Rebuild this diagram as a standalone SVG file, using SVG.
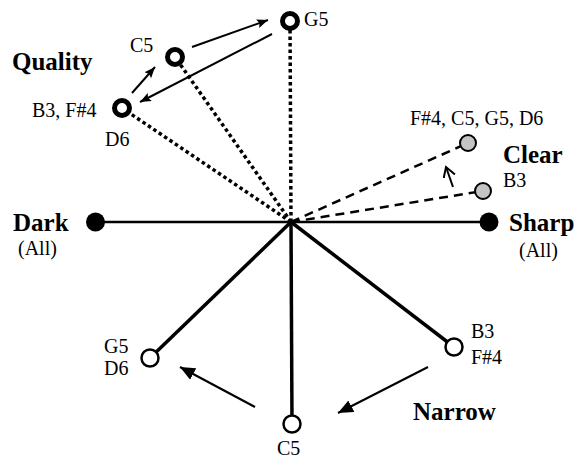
<svg xmlns="http://www.w3.org/2000/svg" width="584" height="459" viewBox="0 0 584 459">
<style>
text{font-family:"Liberation Serif","Times New Roman",serif;fill:#000}
.lbl{font-size:20px}
.ttl{font-size:25px;font-weight:bold}
.q{fill:#fff;stroke:#000;stroke-width:5}
.c{fill:#c4c4c4;stroke:#000;stroke-width:2}
.n{fill:#fff;stroke:#000;stroke-width:2.5}
.d{fill:#000}
.dot{stroke:#000;stroke-width:3.5;stroke-dasharray:3.5 3;fill:none}
.dash{stroke:#000;stroke-width:2.5;stroke-dasharray:9 6;fill:none}
.thick{stroke:#000;stroke-width:3.5;fill:none}
.axis{stroke:#000;stroke-width:2.5;fill:none}
.arr{stroke:#000;stroke-width:2;fill:none}
</style>
<defs>
<marker id="big" markerUnits="userSpaceOnUse" markerWidth="16" markerHeight="14" refX="15" refY="6.5" orient="auto"><path d="M0,0 L15,6.5 L0,13 z" fill="#000"/></marker>
<marker id="small" markerUnits="userSpaceOnUse" markerWidth="12" markerHeight="10" refX="11" refY="4.5" orient="auto"><path d="M0,0 L11,4.5 L0,9 L2,4.5 z" fill="#000"/></marker>
<marker id="open" markerUnits="userSpaceOnUse" markerWidth="12" markerHeight="14" refX="10" refY="6" orient="auto"><path d="M0,0 L10,6 L0,12" fill="none" stroke="#000" stroke-width="2"/></marker>
</defs>
<g id="connectors">
<line class="axis" x1="95.5" y1="222" x2="489" y2="222"/>
<line class="dot" x1="291" y1="222" x2="290" y2="21"/>
<line class="dot" x1="291" y1="222" x2="175" y2="57"/>
<line class="dot" x1="291" y1="222" x2="122" y2="108"/>
<line class="dash" x1="291" y1="222" x2="468" y2="143"/>
<line class="dash" x1="291" y1="222" x2="483" y2="191"/>
<line class="thick" x1="291" y1="222" x2="150" y2="358"/>
<line class="thick" x1="291" y1="222" x2="292" y2="424"/>
<line class="thick" x1="291" y1="222" x2="454" y2="347"/>
<line class="arr" x1="132" y1="93" x2="155" y2="67" marker-end="url(#small)"/>
<line class="arr" x1="192" y1="47" x2="268" y2="20" marker-end="url(#small)"/>
<line class="arr" x1="272" y1="34" x2="140" y2="102" marker-end="url(#small)"/>
<line class="arr" x1="453" y1="187" x2="446" y2="167" marker-end="url(#open)"/>
<line class="arr" x1="255" y1="407" x2="180" y2="367" marker-end="url(#big)"/>
<line class="arr" x1="428" y1="367" x2="338" y2="413" marker-end="url(#big)"/>
</g>
<g id="quality-title"><text class="ttl" x="12" y="70">Quality</text></g>
<g id="q-g5"><circle class="q" cx="290" cy="21" r="7.5"/><text class="lbl" x="304" y="26">G5</text></g>
<g id="q-c5"><circle class="q" cx="175" cy="57" r="7.5"/><text class="lbl" x="130" y="52">C5</text></g>
<g id="q-b3"><circle class="q" cx="122" cy="108" r="7.5"/><text class="lbl" x="32" y="117">B3, F#4</text><text class="lbl" x="105" y="146">D6</text></g>
<g id="clear-title"><text class="ttl" x="503" y="163">Clear</text></g>
<g id="c-upper"><circle class="c" cx="468" cy="143" r="8"/><text class="lbl" x="410" y="125">F#4, C5, G5, D6</text></g>
<g id="c-b3"><circle class="c" cx="483" cy="191" r="8"/><text class="lbl" x="503" y="187">B3</text></g>
<g id="dark"><circle class="d" cx="95.5" cy="222" r="9.5"/><text class="ttl" x="13" y="231">Dark</text><text class="lbl" x="18" y="255">(All)</text></g>
<g id="sharp"><circle class="d" cx="489" cy="222" r="9.5"/><text class="ttl" x="509" y="231">Sharp</text><text class="lbl" x="519" y="257">(All)</text></g>
<g id="n-g5"><circle class="n" cx="150" cy="358" r="8.5"/><text class="lbl" x="104" y="353">G5</text><text class="lbl" x="104" y="375">D6</text></g>
<g id="n-c5"><circle class="n" cx="292" cy="424" r="8.5"/><text class="lbl" x="277" y="455">C5</text></g>
<g id="n-b3"><circle class="n" cx="454" cy="347" r="8.5"/><text class="lbl" x="471" y="338">B3</text><text class="lbl" x="471" y="364">F#4</text></g>
<g id="narrow-title"><text class="ttl" x="413" y="420">Narrow</text></g>
</svg>
